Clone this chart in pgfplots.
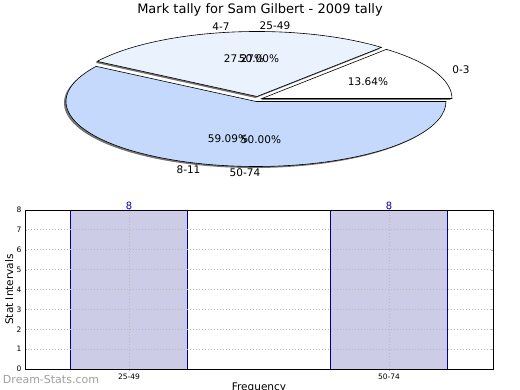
\documentclass[border=0pt]{standalone}
\usepackage{pgfplots}
\pgfplotsset{compat=1.18}
\usepackage{fontspec}
\setmainfont{DejaVu Sans}
\definecolor{sliceA}{RGB}{255,255,255}
\definecolor{sliceB}{RGB}{234,242,254}
\definecolor{sliceC}{RGB}{197,217,253}
\definecolor{barfill}{RGB}{204,204,230}
\definecolor{baredge}{RGB}{0,0,140}
\definecolor{lbl}{RGB}{0,0,190}
\newcommand{\pieshadow}[4]{%
  \fill[black!55] ([xshift=#3pt,yshift=#4pt]axis cs:0,0) -- ++({190pt*cos(#1)},{65pt*sin(#1)})
    arc[start angle=#1, end angle=#2, x radius=190pt, y radius=65pt] -- cycle;}
\newcommand{\pieslice}[5]{%
  \filldraw[fill=#5, draw=black, line width=0.6pt] ([xshift=#3pt,yshift=#4pt]axis cs:0,0) -- ++({190pt*cos(#1)},{65pt*sin(#1)})
    arc[start angle=#1, end angle=#2, x radius=190pt, y radius=65pt] -- cycle;}
\begin{document}
\begin{tikzpicture}
\path[use as bounding box] (0,0) rectangle (520pt,390pt);
% pie data (counts): 0-3, 4-7, 8-11
\def\vA{3}\def\vB{6}\def\vC{13}
\pgfmathsetmacro\tot{\vA+\vB+\vC}
\pgfmathsetmacro\aA{360*\vA/\tot}
\pgfmathsetmacro\aB{360*(\vA+\vB)/\tot}
\begin{axis}[at={(257.5pt,290.5pt)}, anchor=center, scale only axis,
  width=380pt, height=130pt, xmin=-1, xmax=1, ymin=-1, ymax=1,
  hide axis, clip=false]
  \pieshadow{0}{\aA}{3}{-0.5}
  \pieshadow{\aA}{\aB}{-2}{1.5}
  \pieshadow{\aB}{360}{-3.5}{-3.5}
  \pieslice{\aB}{360}{-1.5}{-2}{sliceC}
  \pieslice{\aA}{\aB}{-0.5}{3}{sliceB}
  \pieslice{0}{\aA}{4.5}{1}{sliceA}
\end{axis}
\node[font=\fontsize{13}{15}\selectfont] at (260pt,380pt) {Mark tally for Sam Gilbert - 2009 tally};
\begin{scope}[every node/.style={font=\fontsize{10.5}{12}\selectfont}]
\node at (221pt,363.3pt) {4-7};
\node at (275pt,364pt) {25-49};
\node at (461pt,320.7pt) {0-3};
\node at (188.5pt,220pt) {8-11};
\node at (245pt,217pt) {50-74};
\node at (244pt,331.7pt) {27.27\%};
\node at (259pt,331.7pt) {50.00\%};
\node at (368pt,308.3pt) {13.64\%};
\node at (228pt,251pt) {59.09\%};
\node at (261pt,250pt) {50.00\%};
\end{scope}
\begin{axis}[at={(25pt,21pt)}, anchor=south west, scale only axis,
  width=468pt, height=159pt, xmin=-0.4, xmax=1.4, ymin=0, ymax=8,
  ybar, bar width=0.45,
  xtick={0,1}, xticklabels={25-49,50-74}, ytick={0,1,...,8},
  axis on top,
  grid=major, grid style={dash pattern=on 1pt off 2pt, gray!55, line width=0.8pt},
  axis line style={line width=0.7pt, black},
  major tick length=2pt, tick style={gray!60},
  /pgf/number format/assume math mode=true,
  tick label style={font=\fontsize{7.5}{8}\selectfont},
  xticklabel style={yshift=1pt},
  ylabel={Stat Intervals}, xlabel={Frequency},
  label style={font=\fontsize{10.5}{12}\selectfont},
  ylabel style={at={(axis description cs:-0.034,0.5)}, anchor=center},
  xlabel style={at={(axis description cs:0.5,-0.12)}, anchor=center},
  nodes near coords,
  nodes near coords style={font=\fontsize{10}{11}\selectfont, text=lbl, anchor=south, inner sep=0.5pt},
  clip=false]
  \addplot[fill=barfill, draw=baredge, line width=0.7pt] coordinates {(0,8) (1,8)};
\end{axis}
\node[font=\fontsize{11}{12}\selectfont, text=gray!75] at (51pt,10pt) {Dream-Stats.com};
\end{tikzpicture}
\end{document}
